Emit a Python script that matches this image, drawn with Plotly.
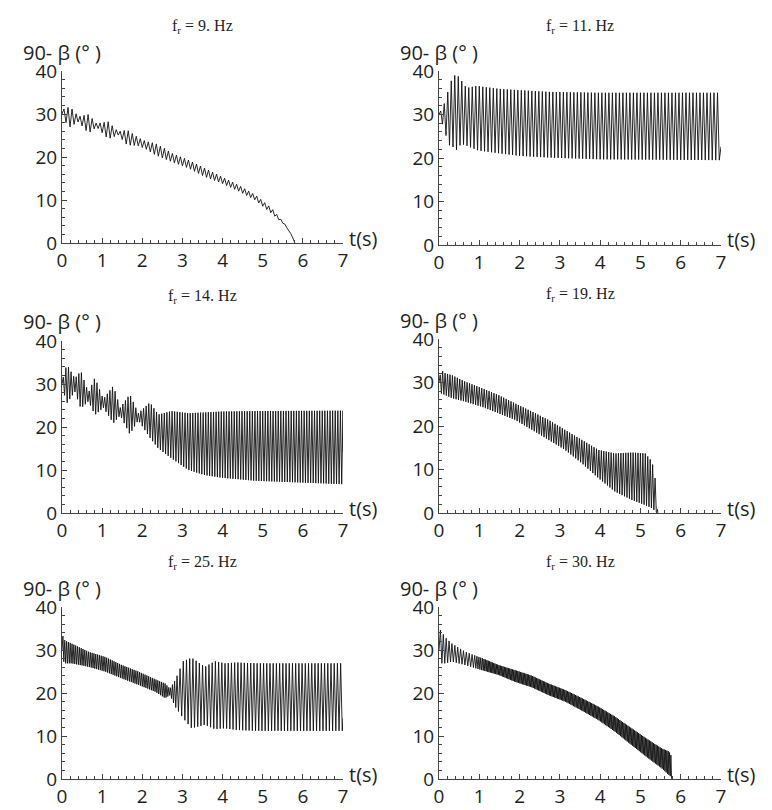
import numpy as np
import plotly.graph_objects as go

# ---------------- data ----------------
titles = ["f<sub>r</sub> = 9. Hz", "f<sub>r</sub> = 11. Hz", "f<sub>r</sub> = 14. Hz",
          "f<sub>r</sub> = 19. Hz", "f<sub>r</sub> = 25. Hz", "f<sub>r</sub> = 30. Hz"]
x_ticks = [0, 1, 2, 3, 4, 5, 6, 7]
y_ticks = [0, 10, 20, 30, 40]

# envelope knots (time s, upper / lower value in degrees), visible oscillation rate (cycles/s), final value
p1_t = [0, 0.2, 0.41, 0.66, 0.86, 1.15, 1.4, 1.62, 1.9, 2.1, 2.32, 2.55, 2.73, 3.15, 3.56, 3.98, 4.39, 4.81, 5.22, 5.56, 5.72, 5.8]
p1_up = [31.0, 31.7, 29.4, 29.9, 27.8, 28.2, 25.9, 26.3, 24.5, 23.6, 23.2, 22.0, 20.9, 19.3, 17.4, 15.4, 13.5, 11.2, 8.1, 4.3, 1.9, 0]
p1_lo = [29.0, 27.0, 28.2, 25.5, 27.0, 24.2, 25.1, 22.8, 22.6, 21.8, 20.5, 19.6, 18.9, 17.4, 15.4, 13.9, 12.1, 10.0, 6.9, 4.1, 1.9, 0]
p1_ft = [0, 7]
p1_f = [10, 10]
p1_end = 0.0

p2_t = [0, 0.08, 0.16, 0.24, 0.34, 0.43, 0.53, 0.63, 0.74, 0.95, 1.07, 1.48, 1.98, 2.72, 3.96, 7.0]
p2_up = [30, 31.5, 33.1, 36.0, 38.7, 39.2, 38.3, 36.6, 36.2, 36.6, 36.4, 35.9, 35.6, 35.2, 35.0, 35.0]
p2_lo = [30, 28.0, 25.6, 23.0, 22.6, 21.8, 23.0, 23.1, 22.6, 21.8, 21.6, 21.1, 20.5, 20.1, 19.7, 19.5]
p2_ft = [0, 7]
p2_f = [11.5, 11.5]
p2_end = 22.6

p3_t = [0, 0.12, 0.32, 0.47, 0.66, 0.82, 1.03, 1.28, 1.45, 1.69, 1.9, 2.19, 2.4, 2.73, 3.15, 3.56, 3.98, 4.8, 7.0]
p3_up = [30.5, 34.6, 31.3, 33.0, 28.0, 31.5, 26.5, 29.6, 24.5, 27.6, 23.2, 25.7, 22.9, 23.7, 23.2, 23.4, 23.6, 23.7, 23.8]
p3_lo = [29.5, 25.5, 28.2, 24.3, 26.0, 22.8, 24.5, 20.9, 22.7, 18.3, 21.6, 17.5, 15.0, 12.7, 10.0, 8.8, 8.2, 7.5, 6.7]
p3_ft = [0, 7]
p3_f = [15.5, 15.5]
p3_end = 14.3

p4_t = [0, 0.05, 0.16, 0.32, 0.65, 1.07, 1.48, 1.89, 2.31, 2.72, 3.13, 3.55, 3.96, 4.37, 4.79, 5.12, 5.29, 5.38, 5.43]
p4_up = [30, 32.9, 32.1, 31.7, 30.2, 28.7, 27.1, 25.2, 23.3, 21.4, 19.1, 16.8, 14.5, 13.7, 13.9, 13.7, 11.8, 7.2, 0]
p4_lo = [30, 27.5, 27.1, 26.4, 25.6, 24.4, 22.9, 21.4, 19.1, 16.8, 14.5, 11.4, 8.0, 4.9, 3.0, 1.8, 1.1, 0.3, 0]
p4_ft = [0, 7]
p4_f = [16.5, 16.5]
p4_end = 0.0

p5_t = [0, 0.03, 0.07, 0.24, 0.66, 1.07, 1.49, 1.9, 2.32, 2.57, 2.69, 2.82, 3.02, 3.23, 3.4, 3.56, 3.81, 4.06, 4.35, 4.81, 7.0]
p5_up = [30, 34.3, 32.2, 31.5, 29.6, 28.4, 26.5, 25.0, 23.2, 22.2, 21.0, 23.0, 27.4, 28.2, 27.1, 26.1, 27.4, 26.9, 27.1, 26.9, 26.9]
p5_lo = [30, 27.5, 26.9, 26.9, 26.1, 25.0, 23.4, 21.9, 20.3, 18.8, 19.5, 16.8, 14.1, 11.8, 12.2, 12.6, 11.6, 11.8, 11.4, 11.2, 11.2]
p5_ft = [0, 2.7, 2.9, 7]
p5_f = [22, 22, 12.5, 12.5]
p5_end = 14.1

p6_t = [0, 0.03, 0.16, 0.32, 0.65, 1.07, 1.48, 1.89, 2.31, 2.72, 3.13, 3.55, 3.96, 4.37, 4.78, 5.2, 5.53, 5.71, 5.76, 5.78]
p6_up = [30, 34.7, 32.9, 31.5, 29.6, 28.1, 26.5, 25.3, 24.0, 22.2, 20.7, 18.8, 16.8, 14.5, 11.8, 9.1, 7.1, 6.4, 5.5, 0]
p6_lo = [30, 26.9, 26.9, 27.3, 26.5, 25.3, 24.2, 22.6, 21.3, 19.5, 18.0, 15.9, 13.7, 11.0, 7.9, 4.8, 2.5, 0.9, 0.5, 0]
p6_ft = [0, 0.8, 1.2, 7]
p6_f = [14, 14, 30, 30]
p6_end = 0.0

panels = [
    (p1_t, p1_up, p1_lo, p1_ft, p1_f, p1_end),
    (p2_t, p2_up, p2_lo, p2_ft, p2_f, p2_end),
    (p3_t, p3_up, p3_lo, p3_ft, p3_f, p3_end),
    (p4_t, p4_up, p4_lo, p4_ft, p4_f, p4_end),
    (p5_t, p5_up, p5_lo, p5_ft, p5_f, p5_end),
    (p6_t, p6_up, p6_lo, p6_ft, p6_f, p6_end),
]


def trace_path(tk, up, lo, ft, fv, end):
    """Zig-zag between the read envelopes at the visible oscillation rate."""
    ts, vs = [tk[0]], [0.5 * (up[0] + lo[0])]
    t, k = tk[0], 0
    t_end = tk[-1]
    while True:
        t += 1.0 / (2.0 * np.interp(t, ft, fv))
        if t >= t_end:
            break
        env = up if k % 2 == 0 else lo
        ts.append(t)
        vs.append(float(np.interp(t, tk, env)))
        k += 1
    ts.append(t_end)
    vs.append(end)
    return ts, vs


# ---------------- layout geometry (page pixels; the page body has an 8px margin) ----------------
OFF = 8
W, H = 772 - OFF, 810 - OFF
cols = [(62, 343), (439, 721)]
rows_left = [(71, 243), (341, 513), (607, 779)]
rows_right = [(71, 245), (339, 513), (607, 779)]


def px(x):
    return (x - OFF) / W


def py(y):
    return 1 - (y - OFF) / H


TXT = "#231f20"
fig = go.Figure()

for i, (tk, up, lo, ft, fv, end) in enumerate(panels):
    r, c = divmod(i, 2)
    x0, x1 = cols[c]
    top, bot = (rows_left if c == 0 else rows_right)[r]
    ax = "" if i == 0 else str(i + 1)
    ts, vs = trace_path(tk, up, lo, ft, fv, end)
    fig.add_trace(go.Scatter(x=ts, y=vs, mode="lines",
                             line=dict(color="#111111", width=0.9),
                             xaxis="x" + ax, yaxis="y" + ax,
                             showlegend=False, hoverinfo="skip"))
    common = dict(showline=True, linecolor="#444", linewidth=1, showgrid=False,
                  zeroline=False, ticks="inside", ticklen=5, tickcolor="#444",
                  automargin=False,
                  tickfont=dict(family="Open Sans", size=19, color=TXT), fixedrange=True)
    fig.update_layout(**{
        "xaxis" + ax: dict(domain=[px(x0), px(x1)], range=[0, 7], tickvals=x_ticks,
                           anchor="y" + ax,
                           minor=dict(dtick=0.2, ticks="inside", ticklen=3, tickcolor="#444"),
                           **common),
        "yaxis" + ax: dict(domain=[py(bot), py(top)], range=[0, 40], tickvals=y_ticks,
                           anchor="x" + ax,
                           minor=dict(dtick=2, ticks="inside", ticklen=3, tickcolor="#444"),
                           **common),
    })
    # panel title
    fig.add_annotation(x=px((x0 + x1) / 2), y=py(top - 45), xref="paper", yref="paper",
                       text=titles[i], showarrow=False, xanchor="center", yanchor="middle",
                       font=dict(family="Liberation Serif", size=16, color=TXT))
    # y-axis label
    fig.add_annotation(x=px(x0), y=py(top - 19), xref="paper", yref="paper",
                       text="90- β (° )", showarrow=False, xanchor="center", yanchor="middle",
                       font=dict(family="Open Sans", size=20, color=TXT))
    # x-axis label
    fig.add_annotation(x=px(x1 + 4), y=py(bot - 5), xref="paper", yref="paper",
                       text="t(s)", showarrow=False, xanchor="left", yanchor="middle",
                       font=dict(family="Open Sans", size=20, color=TXT))

fig.update_layout(width=W, height=H, margin=dict(l=0, r=0, t=0, b=0), template="none",
                  paper_bgcolor="white", plot_bgcolor="white")
fig.write_html("out.html")
